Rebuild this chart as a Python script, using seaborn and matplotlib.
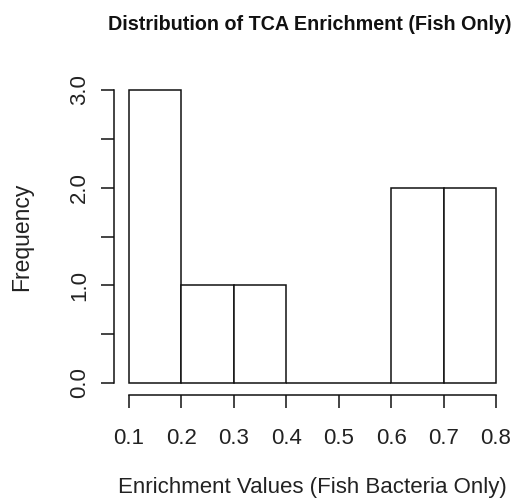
import numpy as np
import pandas as pd
import matplotlib
matplotlib.use("Agg")
import matplotlib.pyplot as plt
import seaborn as sns

# histogram
bin_edges = [0.1, 0.2, 0.3, 0.4, 0.5, 0.6, 0.7, 0.8]
counts = [3, 1, 1, 0, 0, 2, 2]
x_ticks = [0.1, 0.2, 0.3, 0.4, 0.5, 0.6, 0.7, 0.8]
y_major = [0, 1, 2, 3]
y_minor = [0.5, 1.5, 2.5]

mids = [(a + b) / 2 for a, b in zip(bin_edges[:-1], bin_edges[1:])]
df = pd.DataFrame({"value": mids, "count": counts})

sns.set_style("ticks")
plt.rcParams["font.family"] = ["Liberation Sans", "DejaVu Sans"]

fig = plt.figure(figsize=(5.17, 5.01), dpi=100)
ax = fig.add_axes([129 / 517, 1 - 383 / 501, 367 / 517, 293 / 501])

sns.histplot(data=df, x="value", weights="count", bins=bin_edges,
             color="white", edgecolor="#111111", linewidth=1.1, alpha=1,
             ax=ax)
for p in ax.patches:
    p.set_clip_on(False)

ax.set_xlim(0.1, 0.8)
ax.set_ylim(0, 3)
ax.set_xticks(x_ticks)
ax.set_xticklabels([f"{t:.1f}" for t in x_ticks])
ax.set_yticks(y_major)
ax.set_yticklabels([f"{t:.1f}" for t in y_major])
ax.set_yticks(y_minor, minor=True)

sns.despine(ax=ax)
ax.spines["left"].set_position(("outward", 15 * 0.72))
ax.spines["bottom"].set_position(("outward", 12 * 0.72))
ax.spines["left"].set_bounds(0, 3)
ax.spines["bottom"].set_bounds(0.1, 0.8)
for s in ("left", "bottom"):
    ax.spines[s].set_linewidth(1.1)
    ax.spines[s].set_color("#111111")

ax.tick_params(axis="both", which="both", length=9.4, width=1.1,
               color="#111111", labelsize=16, labelcolor="#222222")
ax.tick_params(axis="x", pad=14)
ax.tick_params(axis="y", pad=8)
for lab in ax.get_yticklabels():
    lab.set_rotation(90)
    lab.set_va("center")

ax.set_xlabel("Enrichment Values (Fish Bacteria Only)", fontsize=16,
              color="#222222", va="center")
ax.xaxis.set_label_coords(0.5, -(487 - 383) / 293)
ax.set_ylabel("Frequency", fontsize=16.5, color="#222222", va="center")
ax.yaxis.set_label_coords((22 - 129) / 367, 0.5)
fig.text(310 / 517, 1 - 24 / 501, "Distribution of TCA Enrichment (Fish Only)",
         ha="center", va="center", fontsize=14.2, fontweight="bold",
         color="#111111")

fig.savefig("out.png", dpi=100)
